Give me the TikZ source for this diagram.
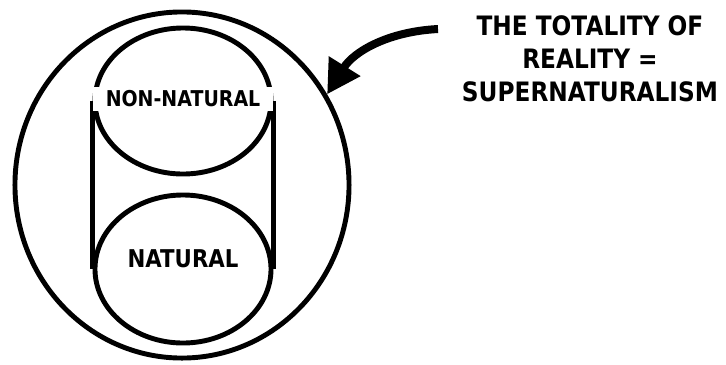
\documentclass[tikz,border=0pt]{standalone}
\usepackage{fontspec}
\setmainfont{DejaVu Sans}[FakeStretch=0.87]
\usepackage{tikz}
\usetikzlibrary{shapes.geometric, arrows.meta, positioning}

\begin{document}
\begin{tikzpicture}[x=0.025cm, y=-0.025cm,
    ring/.style={draw, ellipse, line width=3.5pt, inner sep=0pt},
    label/.style={font=\bfseries, inner sep=0pt}]

    % =================================================================
    % 1. KHUNG ẢNH
    % =================================================================
    \useasboundingbox (0,0) rectangle (726,364);

    % =================================================================
    % 2. CÁC HÌNH ELIP
    % =================================================================
    % Elip lớn bao ngoài
    \node[ring, minimum width=8.35cm, minimum height=8.65cm] (Reality) at (182,185) {};

    % Hai elip bên trong
    \node[ring, minimum width=4.4cm, minimum height=3.65cm] (NonNaturalRing) at (183,101) {};
    \node[ring, minimum width=4.4cm, minimum height=3.7cm] (NaturalRing) at (183,269) {};

    % Hai cạnh thẳng nối hai elip
    \draw[line width=3.5pt] (NonNaturalRing.west) -- (NaturalRing.west);
    \draw[line width=3.5pt] (NonNaturalRing.east) -- (NaturalRing.east);

    % =================================================================
    % 3. NHÃN CHỮ
    % =================================================================
    \node[label, fill=white, minimum width=4.5cm, minimum height=0.58cm,
          font=\bfseries\fontsize{15.5}{18}\selectfont] (NonNatural) at (183,99) {NON-NATURAL};
    \node[label, font=\bfseries\fontsize{17.4}{20}\selectfont] (Natural) at (183,259) {NATURAL};

    \node[label, align=center, font=\bfseries\fontsize{19}{23.4}\selectfont] (Totality) at (590,59)
        {THE TOTALITY OF\\REALITY =\\SUPERNATURALISM};

    % =================================================================
    % 4. MŨI TÊN CONG
    % =================================================================
    \coordinate (ArrowTail) at (438,29);
    \draw[line width=0.2cm, -{Triangle[length=0.83cm, width=0.88cm]}]
        (ArrowTail) to[out=183, in=58] (Reality.32);

\end{tikzpicture}
\end{document}
